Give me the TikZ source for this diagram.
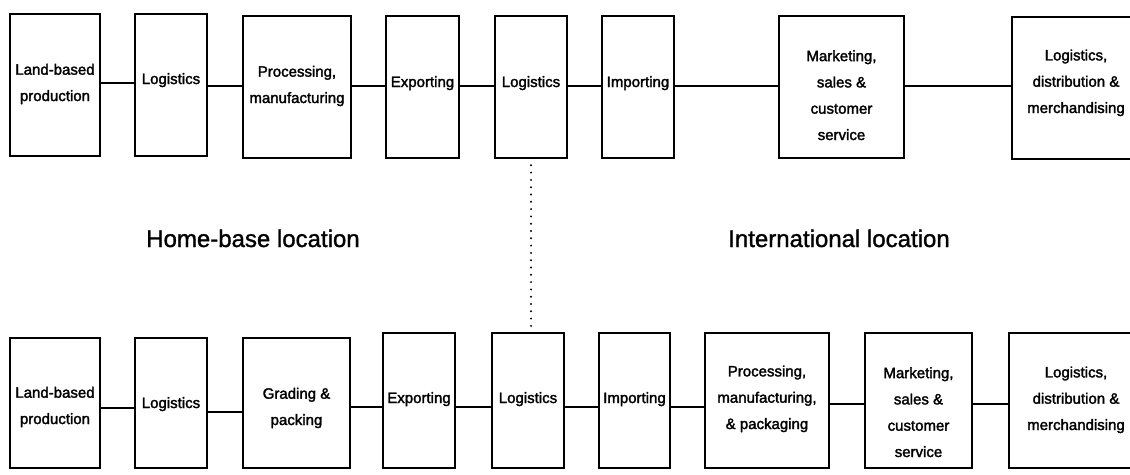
\documentclass[tikz,border=0pt]{standalone}
\usepackage{fontspec}
\setmainfont{Liberation Sans}
\newfontfamily\stageface[FakeBold=2]{Liberation Sans}
\newfontfamily\regionface[FakeBold=1.2]{Liberation Sans}
\newcommand{\boxfont}{\stageface\fontsize{15}{26.3}\selectfont}
\newcommand{\regionfont}{\regionface\fontsize{24}{28}\selectfont}
\tikzset{
  stage/.style={draw, line width=1.3pt, inner sep=0pt, outer sep=0pt, anchor=north west},
  stagetext/.style={font=\boxfont, align=center, anchor=base, inner sep=0pt},
  link/.style={line width=1.3pt},
  region/.style={font=\regionfont, anchor=base, inner sep=0pt},
  tie/.style={line width=2.2pt, line cap=round, dash pattern=on 0pt off 7.3pt}
}
\begin{document}
\begin{tikzpicture}[x=1pt,y=-1pt]
\useasboundingbox (0,0) rectangle (1130,474);
\clip (0,0) rectangle (1130,474);

% ---- home-base chain (top row) ----
\node[stage, minimum width=90pt,  minimum height=142pt] (t1) at (10,14) {};
\node[stage, minimum width=72pt,  minimum height=142pt] (t2) at (135,14) {};
\node[stage, minimum width=108pt, minimum height=142pt] (t3) at (243,16) {};
\node[stage, minimum width=73pt,  minimum height=142pt] (t4) at (386,16) {};
\node[stage, minimum width=72pt,  minimum height=142pt] (t5) at (495,16) {};
\node[stage, minimum width=72pt,  minimum height=142pt] (t6) at (602,16) {};
\node[stage, minimum width=125pt, minimum height=142pt] (t7) at (779,16) {};
\node[stage, minimum width=128pt, minimum height=142pt] (t8) at (1012,17) {};

% labels are placed by the baseline of their last line
\node[stagetext] (t1l) at (t1.center |- 0,101) {Land-based\\production};
\node[stagetext] (t2l) at (t2.center |- 0,84) {Logistics};
\node[stagetext] (t3l) at (t3.center |- 0,103) {Processing,\\manufacturing};
\node[stagetext] (t4l) at (t4.center |- 0,87) {Exporting};
\node[stagetext] (t5l) at (t5.center |- 0,87) {Logistics};
\node[stagetext] (t6l) at (t6.center |- 0,87) {Importing};
\node[stagetext] (t7l) at (t7.center |- 0,140) {Marketing,\\sales \&\\customer\\service};
\node[stagetext] (t8l) at (t8.center |- 0,113) {Logistics,\\distribution \&\\merchandising};

\coordinate (ra) at (0,83);
\coordinate (rb) at (0,86);
\draw[link] (t1.east |- ra) -- (t2.west |- ra);
\draw[link] (t2.east |- rb) -- (t3.west |- rb);
\draw[link] (t3.east |- rb) -- (t4.west |- rb);
\draw[link] (t4.east |- rb) -- (t5.west |- rb);
\draw[link] (t5.east |- rb) -- (t6.west |- rb);
\draw[link] (t6.east |- rb) -- (t7.west |- rb);
\draw[link] (t7.east |- rb) -- (t8.west |- rb);

% ---- region captions ----
\node[region] (home) at (253,247) {Home-base location};
\node[region] (intl) at (839,247) {International location};

% ---- international chain (bottom row) ----
\node[stage, minimum width=90pt,  minimum height=130pt] (b1) at (10,338) {};
\node[stage, minimum width=72pt,  minimum height=130pt] (b2) at (135,338) {};
\node[stage, minimum width=107pt, minimum height=130pt] (b3) at (243,338) {};
\node[stage, minimum width=72pt,  minimum height=135pt] (b4) at (383,333) {};
\node[stage, minimum width=72pt,  minimum height=135pt] (b5) at (492,333) {};
\node[stage, minimum width=71pt,  minimum height=135pt] (b6) at (599,333) {};
\node[stage, minimum width=124pt, minimum height=135pt] (b7) at (705,333) {};
\node[stage, minimum width=107pt, minimum height=135pt] (b8) at (865,333) {};
\node[stage, minimum width=134pt, minimum height=135pt] (b9) at (1009,333) {};

\node[stagetext] (b1l) at (b1.center |- 0,424) {Land-based\\production};
\node[stagetext] (b2l) at (b2.center |- 0,408) {Logistics};
\node[stagetext] (b3l) at (b3.center |- 0,425) {Grading \&\\packing};
\node[stagetext] (b4l) at (b4.center |- 0,403) {Exporting};
\node[stagetext] (b5l) at (b5.center |- 0,403) {Logistics};
\node[stagetext] (b6l) at (b6.center |- 0,403) {Importing};
\node[stagetext] (b7l) at (b7.center |- 0,429) {Processing,\\manufacturing,\\\& packaging};
\node[stagetext] (b8l) at (b8.center |- 0,457) {Marketing,\\sales \&\\customer\\service};
\node[stagetext] (b9l) at (b9.center |- 0,430) {Logistics,\\distribution \&\\merchandising};

\coordinate (rc) at (0,408);
\coordinate (rd) at (0,412);
\coordinate (re) at (0,407);
\coordinate (rf) at (0,404);
\draw[link] (b1.east |- rc) -- (b2.west |- rc);
\draw[link] (b2.east |- rd) -- (b3.west |- rd);
\draw[link] (b3.east |- re) -- (b4.west |- re);
\draw[link] (b4.east |- re) -- (b5.west |- re);
\draw[link] (b5.east |- re) -- (b6.west |- re);
\draw[link] (b6.east |- re) -- (b7.west |- re);
\draw[link] (b7.east |- rf) -- (b8.west |- rf);
\draw[link] (b8.east |- rf) -- (b9.west |- rf);

% ---- dotted tie between the two logistics hubs ----
\draw[tie] (t5.south) -- (t5.south |- b5.north);
\end{tikzpicture}
\end{document}
